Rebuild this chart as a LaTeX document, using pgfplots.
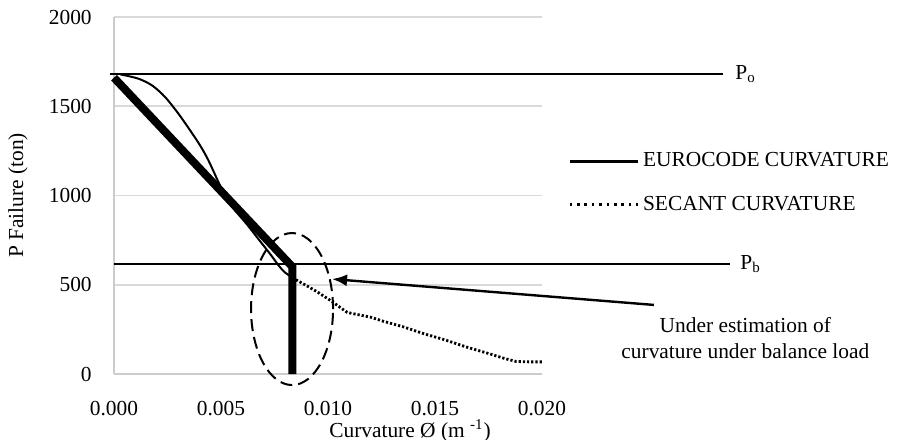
\documentclass[border=0pt]{standalone}
\usepackage{pgfplots}
\pgfplotsset{compat=1.18}
\usepackage{fontspec}
\setmainfont{Liberation Serif}
\usetikzlibrary{arrows.meta}
\begin{document}
\fontsize{10.7}{12.8}\selectfont
\begin{tikzpicture}
\useasboundingbox (0,0) rectangle (449pt,-219.5pt);
\begin{axis}[
  at={(57pt,-187pt)}, anchor=south west,
  scale only axis, width=214pt, height=178.5pt,
  xmin=0, xmax=0.02, ymin=0, ymax=2000,
  xtick={0,0.005,0.01,0.015,0.02},
  ytick={0,500,1000,1500,2000},
  scaled x ticks=false,
  ymajorgrids, grid style={draw=gray!30, line width=0.8pt},
  axis x line*=bottom, axis y line*=left,
  axis line style={draw=gray!40, line width=0.8pt, -},
  major tick length=0pt,
  clip=false,
  /pgf/number format/assume math mode=true,
  tick label style={font=\fontsize{10.7}{12.8}\selectfont},
  xticklabel style={/pgf/number format/.cd, fixed, fixed zerofill, precision=3, /tikz/.cd, yshift=-10pt},
  yticklabel style={/pgf/number format/1000 sep={}, xshift=-7.4pt},
  xlabel={Curvature Ø (m \textsuperscript{-1})},
  ylabel={P Failure (ton)},
  every axis x label/.style={at={(axis description cs:0.6916,-0.158)}, anchor=center},
  every axis y label/.style={at={(axis description cs:-0.2243,0.5)}, anchor=center, rotate=90},
  legend style={at={(rel axis cs:1.06,0.535)}, anchor=west, draw=none, fill=none,
    inner sep=0pt, row sep=9pt, font=\fontsize{10.7}{12.8}\selectfont},
  legend cell align=left,
]
% P_o and P_b horizontal lines
\addplot[black, line width=1pt, forget plot] coordinates {(-0.0002,1681) (0.02846,1681)};
\addplot[black, line width=1pt, forget plot] coordinates {(0,615) (0.02879,615)};
% Eurocode curvature
\addplot[black, line width=4pt, line join=miter,
  legend image code/.code={\draw[line width=1.5pt] (0pt,0pt) -- (34pt,0pt);}]
  coordinates {(0,1660) (0.00834,600) (0.00834,0)};
\addlegendentry{EUROCODE CURVATURE}
% Secant curvature (dense part, appears solid)
\addplot[black, line width=1pt, smooth, tension=0.5, forget plot] coordinates {
(0.0003,1678) (0.0006,1671) (0.0012,1652) (0.0018,1615) (0.0024,1550)
(0.0030,1460) (0.0035,1375) (0.0040,1285) (0.0044,1200) (0.0049,1070)
(0.0052,995) (0.0056,925) (0.0062,840) (0.0068,748) (0.0073,672)
(0.0077,607) (0.0080,568) (0.0085,528)};
% Secant curvature (dotted part)
\addplot[black, line width=1.4pt, dash pattern=on 1.1pt off 1pt,
  legend image code/.code={\draw[line width=1.3pt, dash pattern=on 1.3pt off 2.4pt] (0pt,0pt) -- (34pt,0pt);}]
  coordinates {
(0.0085,528) (0.0090,495) (0.0095,460) (0.0102,405) (0.0106,370)
(0.0109,345) (0.0113,335) (0.0120,318) (0.0126,295) (0.0135,265)
(0.0145,225) (0.0155,190) (0.0165,150) (0.0175,115) (0.0183,85)
(0.0188,70) (0.0194,68) (0.0200,68)};
\addlegendentry{SECANT CURVATURE}
% labels
\node[anchor=west, inner sep=0pt] at (axis cs:0.02902,1681) {P\textsubscript{o}};
\node[anchor=west, inner sep=0pt] at (axis cs:0.02925,615) {P\textsubscript{b}};
\node[align=center, inner sep=0pt] at (axis cs:0.0295,202) {Under estimation of\\curvature under balance load};
\draw[black, line width=1.2pt, -{Latex[length=7.5pt,width=6pt]}] (axis cs:0.02523,387) -- (axis cs:0.01019,532);
\draw[black, line width=1pt, dash pattern=on 6pt off 3pt] (axis cs:0.00832,364) ellipse [x radius=20.5pt, y radius=38pt];
\end{axis}
\end{tikzpicture}
\end{document}
